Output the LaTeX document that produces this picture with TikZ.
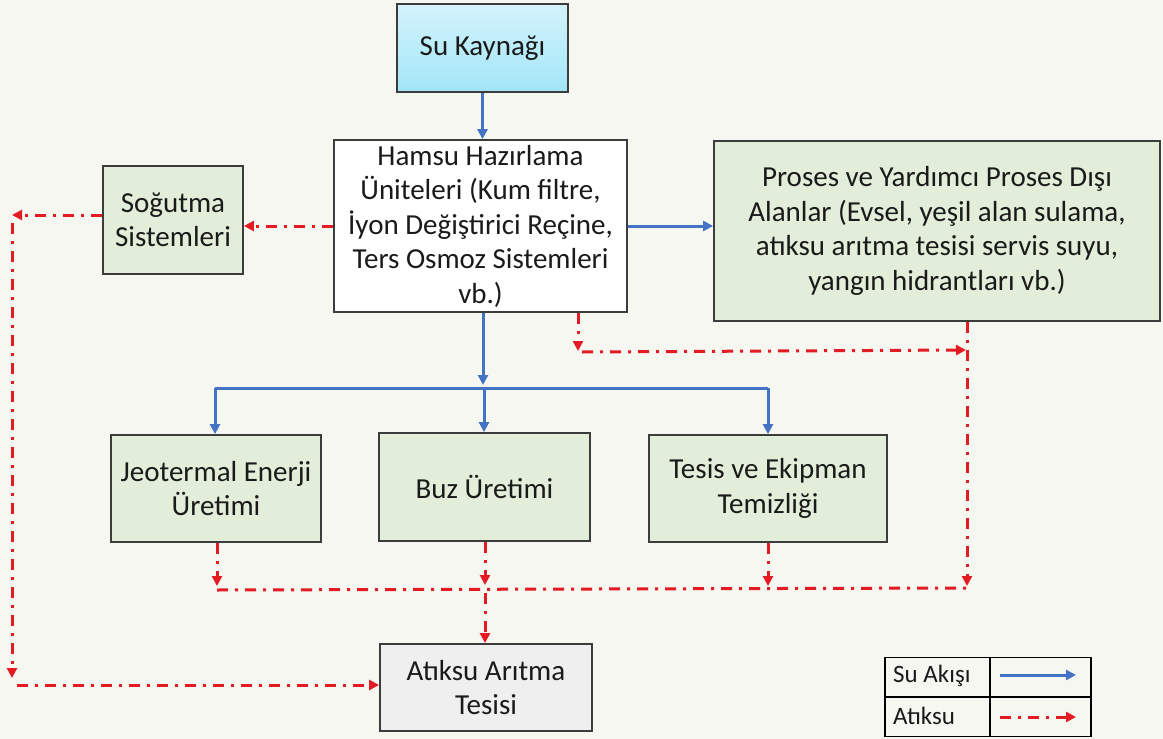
\documentclass[tikz,border=0pt]{standalone}
\usepackage{fontspec}
\setmainfont{Carlito}
\usetikzlibrary{arrows.meta,calc}
\definecolor{bg}{HTML}{F7F7F2}
\definecolor{boxline}{HTML}{3C3C3C}
\definecolor{txt}{HTML}{1A1A1A}
\definecolor{greenfill}{HTML}{E2EED9}
\definecolor{grayfill}{HTML}{EFEFEF}
\definecolor{cyantop}{HTML}{D3F3FB}
\definecolor{cyanbot}{HTML}{A2E6F8}
\definecolor{flowblue}{HTML}{4472C4}
\definecolor{wastered}{HTML}{E31B23}
\begin{document}
\begin{tikzpicture}[x=1pt,y=-1pt,
  box/.style={draw=boxline, line width=1.8pt, align=center, inner sep=0pt,
    font=\fontsize{29}{34.5}\selectfont, text=txt},
  water/.style={draw=flowblue, line width=3pt, -{Triangle[length=10pt,width=10pt]}},
  waterline/.style={draw=flowblue, line width=3pt},
  waste/.style={draw=wastered, line width=3pt, dash pattern=on 11pt off 7pt on 3pt off 7pt, -{Triangle[length=10pt,width=10pt]}},
  wasteline/.style={draw=wastered, line width=3pt, dash pattern=on 11pt off 7pt on 3pt off 7pt},
  legtext/.style={anchor=west, inner sep=0pt, font=\fontsize{25}{30}\selectfont, text=txt},
]
\fill[bg] (0,0) rectangle (1163,739);
\useasboundingbox (0,0) rectangle (1163,739);

% boxes
\node[box, top color=cyantop, bottom color=cyanbot, minimum width=171pt, minimum height=88pt] (src) at (482.5,48) {Su Kaynağı};
\node[box, fill=white, minimum width=293pt, minimum height=172pt] (ham) at (480.5,226)
  {Hamsu Hazırlama\\Üniteleri (Kum filtre,\\İyon Değiştirici Reçine,\\Ters Osmoz Sistemleri\\vb.)};
\node[box, fill=greenfill, minimum width=140pt, minimum height=108pt] (sog) at (173,220) {Soğutma\\Sistemleri};
\node[box, fill=greenfill, minimum width=446pt, minimum height=180pt] (pro) at (937,231)
  {Proses ve Yardımcı Proses Dışı\\Alanlar (Evsel, yeşil alan sulama,\\atıksu arıtma tesisi servis suyu,\\yangın hidrantları vb.)};
\node[box, fill=greenfill, minimum width=210pt, minimum height=107pt] (jeo) at (216,488.5) {Jeotermal Enerji\\Üretimi};
\node[box, fill=greenfill, minimum width=211pt, minimum height=108pt] (buz) at (484.5,487) {Buz Üretimi};
\node[box, fill=greenfill, minimum width=238pt, minimum height=107pt] (tes) at (768,488.5) {Tesis ve Ekipman\\Temizliği};
\node[box, fill=grayfill, minimum width=212pt, minimum height=87pt] (atk) at (486,687.5) {Atıksu Arıtma\\Tesisi};

% legend
\node[draw=black, line width=1.5pt, minimum width=206pt, minimum height=79pt, inner sep=0pt] (leg) at (988,697) {};
\coordinate (legmidL) at (885,697);
\coordinate (legmidR) at (1091,697);
\coordinate (legdivT) at (990,657.5);
\coordinate (legdivB) at (990,736.5);
\draw[black, line width=1.3pt] (legmidL) -- (legmidR);
\draw[black, line width=1.3pt] (legdivT) -- (legdivB);
\node[legtext] (legsu) at (893,676) {Su Akışı};
\node[legtext] (legat) at (893,716) {Atıksu};
\coordinate (lbA) at (1000,675);
\coordinate (lbB) at (1076,675);
\coordinate (lrA) at (1000,717);
\coordinate (lrB) at (1076,717);
\draw[water] (lbA) -- (lbB);
\draw[waste] (lrA) -- (lrB);

% water flow
\draw[water] (src.south) -- (ham.north -| src.south);
\draw[water] (ham.east) -- (pro.west |- ham.east);
\coordinate (bT) at (483,385);
\draw[water] (ham.south -| bT) -- (bT);
\coordinate (bL) at (215,388);
\coordinate (bM) at (484,388);
\coordinate (bR) at (768,388);
\draw[waterline] (bL) -- (bR);
\draw[water] (bL) -- (jeo.north -| bL);
\draw[water] (bM) -- (buz.north -| bM);
\draw[water] (bR) -- (tes.north -| bR);

% waste water
\draw[waste] (ham.west) -- (sog.east |- ham.west);
\coordinate (sL) at (12,215);
\draw[waste] (sog.west |- sL) -- (sL);
\coordinate (sV1) at (12,223);
\coordinate (sV2) at (12,678);
\draw[waste] (sV1) -- (sV2);
\coordinate (sH) at (17,685);
\draw[waste] (sH) -- (atk.west |- sH);

\coordinate (hD) at (578,351);
\draw[waste] (ham.south -| hD) -- (hD);
\coordinate (hH1) at (582,352);
\coordinate (hH2) at (966,350);
\draw[waste] (hH1) -- (hH2);
\coordinate (pD) at (967,586);
\draw[waste] (pro.south -| pD) -- (pD);

\coordinate (tD) at (768,586);
\draw[waste] (tes.south -| tD) -- (tD);
\coordinate (jD) at (217,586);
\draw[waste] (jeo.south -| jD) -- (jD);
\coordinate (zD) at (485,585);
\draw[waste] (buz.south -| zD) -- (zD);
\coordinate (cL) at (217,590);
\coordinate (cR) at (967,588);
\draw[wasteline] (cL) -- (cR);
\coordinate (zA) at (485,593);
\draw[waste] (zA) -- (atk.north -| zA);
\end{tikzpicture}
\end{document}
